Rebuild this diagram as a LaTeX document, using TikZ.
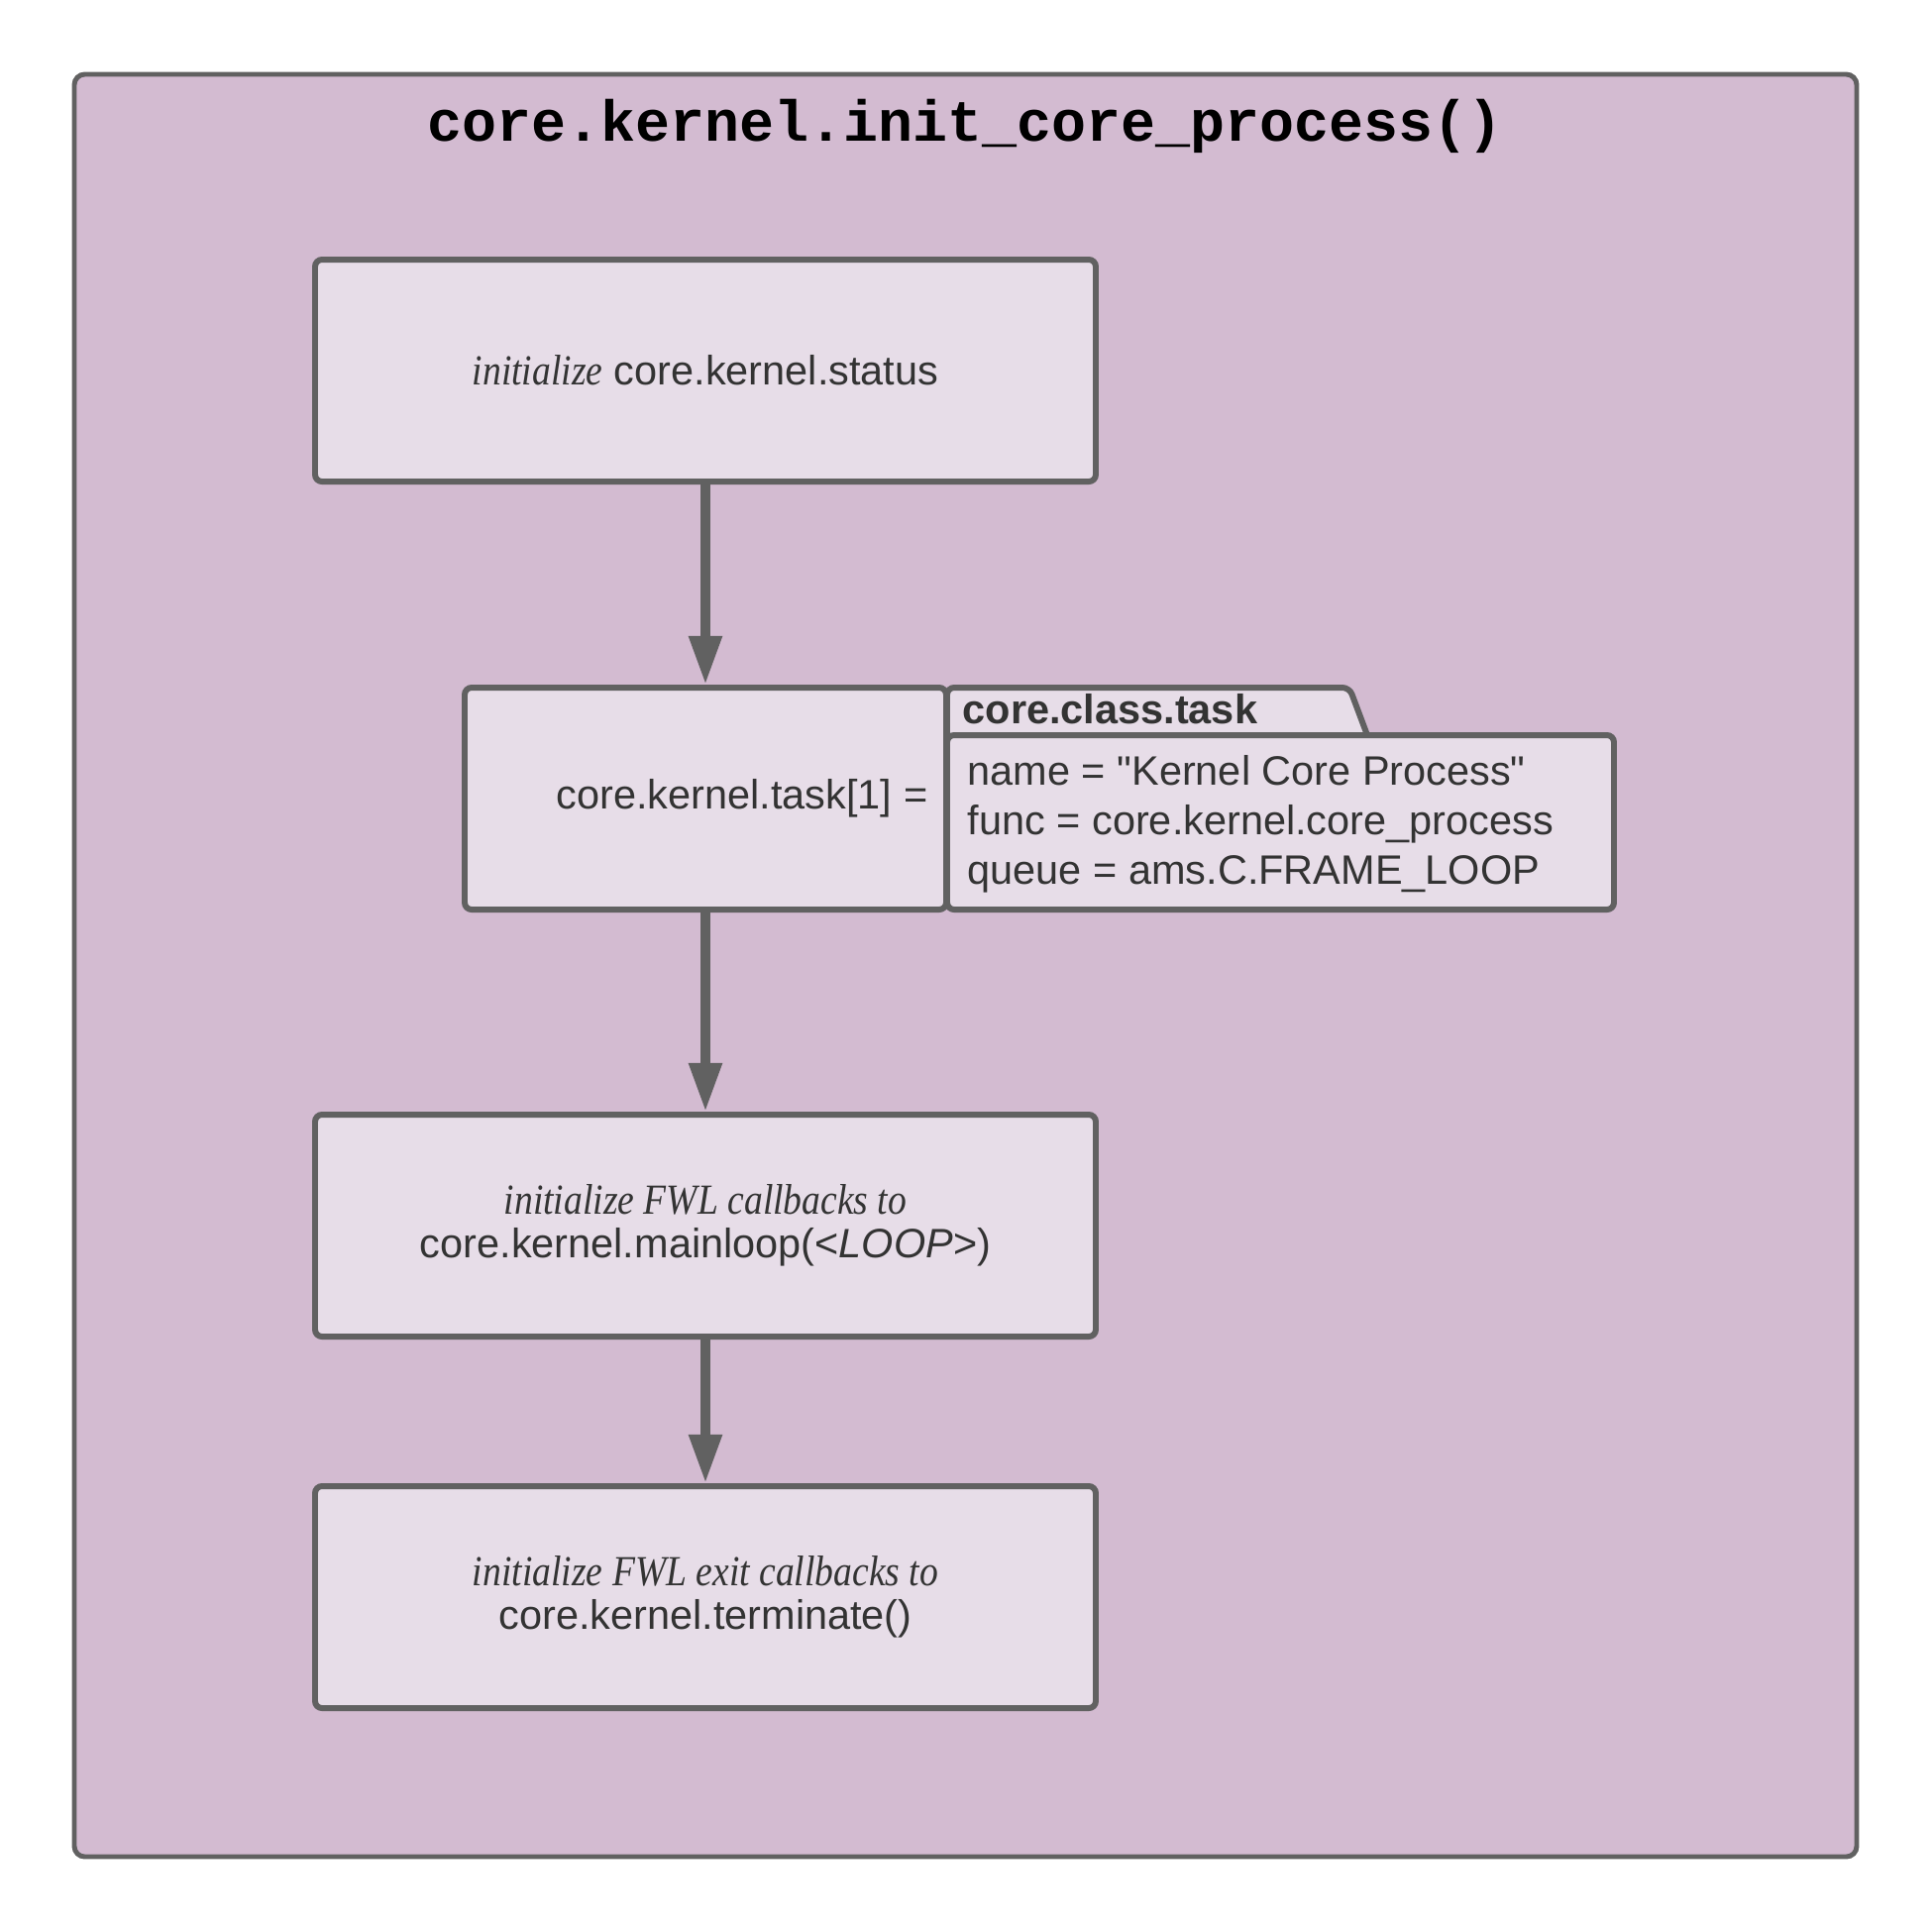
\documentclass[tikz,border=0pt]{standalone}
\usepackage{fontspec}
\setmainfont{Liberation Serif}
\setsansfont{Liberation Sans}
\setmonofont{Liberation Mono}
\newfontfamily\narrowserif{Liberation Serif}[FakeStretch=0.87]
\usetikzlibrary{arrows.meta}
\definecolor{framefill}{HTML}{D3BBD1}
\definecolor{boxfill}{HTML}{E7DDE8}
\definecolor{edgegray}{HTML}{616161}
\definecolor{ink}{HTML}{333333}
\newcommand{\emtxt}[1]{{\narrowserif\itshape\fontsize{12.3}{12.5}\selectfont #1}}
\tikzset{
  procbox/.style={draw=edgegray, fill=boxfill, line width=1.7pt, rounded corners=2pt,
    minimum width=7.88cm, minimum height=2.24cm, text=ink, align=center,
    font=\sffamily\fontsize{11.8}{12.6}\selectfont},
  flow/.style={draw=edgegray, line width=2.8pt, -{Triangle[length=14pt,width=9pt]}},
  plain/.style={inner sep=0pt, text=ink, font=\sffamily\fontsize{11.8}{14.2}\selectfont},
}
\begin{document}
\begin{tikzpicture}
    \useasboundingbox (0,0) rectangle (19.5,-19.5);
    % outer frame
    \draw[edgegray, fill=framefill, line width=1.4pt, rounded corners=3pt] (0.75,-0.75) rectangle (18.74,-18.74);
    \node[font=\ttfamily\bfseries\fontsize{16.6}{18}\selectfont] (title) at (9.745,-1.27) {core.kernel.init\_core\_process()};
    % steps
    \node[procbox] (status) at (7.12,-3.74) {\emtxt{initialize} core.kernel.status};
    \node[procbox, minimum width=4.86cm] (task) at (7.12,-8.06) {};
    \node[plain, anchor=east] (tasklbl) at ([xshift=-0.21cm]task.east) {core.kernel.task[1] =};
    \node[procbox] (mainloop) at (7.12,-12.37) {\emtxt{initialize FWL callbacks to}\\core.kernel.mainloop(<\textit{LOOP}>)};
    \node[procbox] (exit) at (7.12,-16.12) {\emtxt{initialize FWL exit callbacks to}\\core.kernel.terminate()};
    % task object
    \draw[edgegray, fill=boxfill, line width=1.7pt, rounded corners=2pt]
      (9.56,-7.42) -- (9.56,-6.94) -- (13.62,-6.94) -- (13.80,-7.42);
    \node[procbox, minimum width=6.73cm, minimum height=1.76cm] (taskbody) at (12.925,-8.30) {};
    \node[plain, anchor=west, font=\sffamily\bfseries\fontsize{11.8}{14}\selectfont] (tabname) at (9.71,-7.16) {core.class.task};
    \node[plain, anchor=west, align=left] (fields) at ([xshift=0.23cm,yshift=-0.02cm]taskbody.west)
      {name = \textquotedbl Kernel Core Process\textquotedbl\\func = core.kernel.core\_process\\queue = ams.C.FRAME\_LOOP};
    % arrows
    \draw[flow] (status.south) -- (task.north);
    \draw[flow] (task.south) -- (mainloop.north);
    \draw[flow] (mainloop.south) -- (exit.north);
\end{tikzpicture}
\end{document}
